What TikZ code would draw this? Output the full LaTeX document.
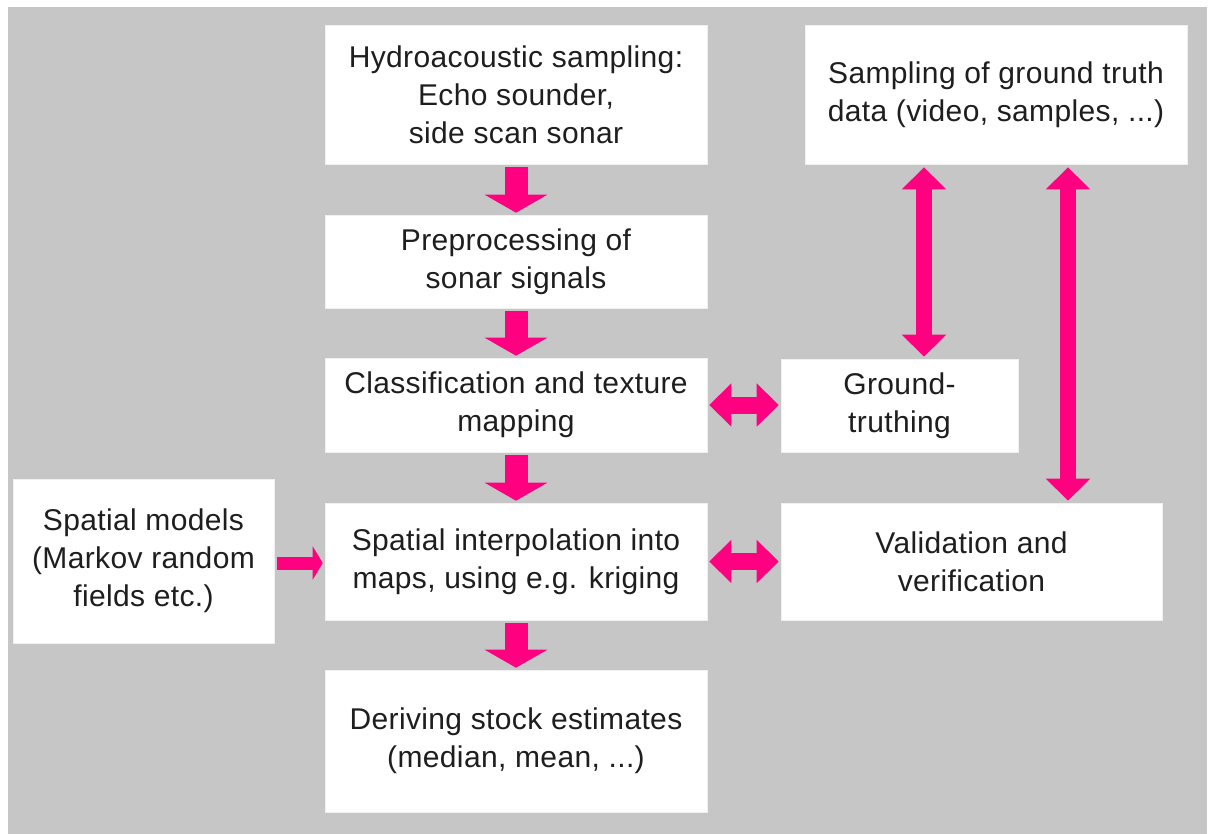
\documentclass[tikz,border=0pt]{standalone}
\usepackage{fontspec}
\setmainfont[LetterSpace=1.2]{Liberation Sans}
\usetikzlibrary{arrows.meta,calc}
\definecolor{bggray}{HTML}{C6C6C6}
\definecolor{arrowpink}{HTML}{FF0080}
\definecolor{textdark}{HTML}{1E1E1E}
\begin{document}
\begin{tikzpicture}[x=1pt,y=-1pt,
  box/.style={draw=white!94!black,line width=0.6pt,fill=white,inner sep=0pt,align=center,
    text=textdark,font=\fontsize{30}{38}\selectfont},
  downarrow/.style={draw=arrowpink,line width=23pt,-{Triangle[width=62pt,length=18pt]}},
  dblarrow/.style={draw=arrowpink,line width=17pt,{Triangle[width=42pt,length=22pt]}-{Triangle[width=42pt,length=22pt]}},
  vdblarrow/.style={draw=arrowpink,line width=16pt,{Triangle[width=43pt,length=22pt]}-{Triangle[width=43pt,length=22pt]}},
  smallarrow/.style={draw=arrowpink,line width=13pt,-{Triangle[width=33pt,length=10pt]}}]
\useasboundingbox (0,0) rectangle (1212,834);
\fill[white] (0,0) rectangle (1212,834);
\fill[bggray] (8,7) rectangle (1207,834);

\node[box,minimum width=382pt,minimum height=139pt] (hydro) at (516,94.5)
  {Hydroacoustic sampling:\\Echo sounder,\\side scan sonar};
\node[box,minimum width=382pt,minimum height=93pt] (prep) at (516,261.5)
  {Preprocessing of\\sonar signals};
\node[box,minimum width=382pt,minimum height=94pt] (class) at (516,405)
  {Classification and texture\\mapping};
\node[box,minimum width=382pt,minimum height=117pt] (interp) at (516,561.5)
  {Spatial interpolation into\\maps, using e.g. kriging};
\node[box,minimum width=382pt,minimum height=142pt] (derive) at (516,741)
  {Deriving stock estimates\\(median, mean, ...)};
\node[box,minimum width=261pt,minimum height=164pt] (models) at (143.5,561)
  {Spatial models\\(Markov random\\fields etc.)};
\node[box,minimum width=382pt,minimum height=139pt] (truth) at (996,94.5)
  {Sampling of ground truth\\data (video, samples, ...)};
\node[box,minimum width=237pt,minimum height=93pt] (ground) at (899.5,405.5)
  {Ground-\\truthing};
\node[box,minimum width=381pt,minimum height=117pt] (valid) at (971.5,561.5)
  {Validation and\\verification};

% vertical flow arrows
\draw[downarrow] ($(hydro.south)+(0,3)$) -- ($(prep.north)+(0,-2)$);
\draw[downarrow] ($(prep.south)+(0,3)$) -- ($(class.north)+(0,-2)$);
\draw[downarrow] ($(class.south)+(0,3)$) -- ($(interp.north)+(0,-2)$);
\draw[downarrow] ($(interp.south)+(0,3)$) -- ($(derive.north)+(0,-2)$);

% side arrows
\draw[smallarrow] ($(models.east |- 0,563)+(3,0)$) -- ($(interp.west |- 0,563)+(-2,0)$);
\draw[dblarrow] ($(class.east)+(2,0)$) -- ($(ground.west |- class.east)+(-2,0)$);
\draw[dblarrow] ($(interp.east)+(2,0)$) -- ($(valid.west |- interp.east)+(-2,0)$);

% ground truth arrows
\draw[vdblarrow] ($(924,0 |- truth.south)+(0,3)$) -- ($(924,0 |- ground.north)+(0,-2)$);
\draw[vdblarrow] ($(1068,0 |- truth.south)+(0,3)$) -- ($(1068,0 |- valid.north)+(0,-2)$);
\end{tikzpicture}
\end{document}
